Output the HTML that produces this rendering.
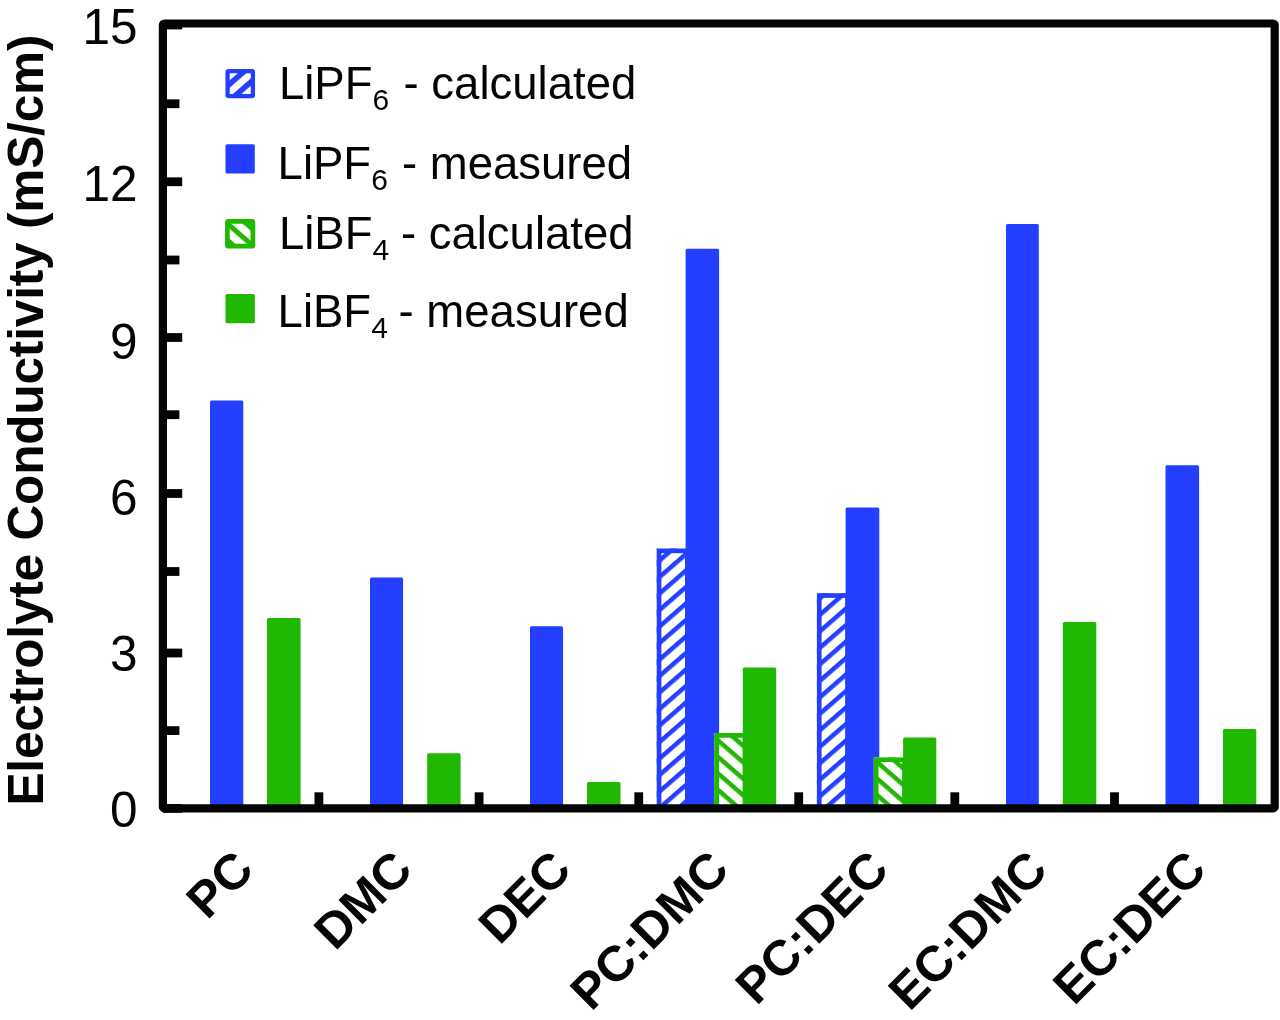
<!DOCTYPE html>
<html><head><meta charset="utf-8"><title>Electrolyte Conductivity</title>
<style>
html,body{margin:0;padding:0;background:#fff;}
svg{display:block;filter:blur(0.45px);}
text{font-family:"Liberation Sans",sans-serif;fill:#030505;}
</style></head>
<body>
<svg width="1280" height="1020" viewBox="0 0 1280 1020">
<defs>
<pattern id="hb0" patternUnits="userSpaceOnUse" width="60" height="12.45" patternTransform="translate(233.1 77.3) rotate(-41)"><rect width="60" height="5.6" fill="#243FFF"/></pattern>
<pattern id="hg0" patternUnits="userSpaceOnUse" width="60" height="12.45" patternTransform="translate(240.5 231.7) rotate(41)"><rect width="60" height="5" fill="#20B800"/></pattern>
<pattern id="hb1" patternUnits="userSpaceOnUse" width="60" height="12.45" patternTransform="translate(662.15 720.25) rotate(-41)"><rect width="60" height="4.5" fill="#243FFF"/></pattern>
<pattern id="hb2" patternUnits="userSpaceOnUse" width="60" height="12.45" patternTransform="translate(820.55 759.7) rotate(-41)"><rect width="60" height="4.5" fill="#243FFF"/></pattern>
<pattern id="hg1" patternUnits="userSpaceOnUse" width="60" height="12.45" patternTransform="translate(721.65 740.6) rotate(41)"><rect width="60" height="4.5" fill="#20B800"/></pattern>
<pattern id="hg2" patternUnits="userSpaceOnUse" width="60" height="12.45" patternTransform="translate(881.35 762.85) rotate(41)"><rect width="60" height="4.5" fill="#20B800"/></pattern>
</defs>
<rect width="1280" height="1020" fill="#fff"/>
<g id="bars">
<path d="M210 806V402.0Q210 400.5 211.5 400.5H241.8Q243.3 400.5 243.3 402.0V806Z" fill="#243FFF"/>
<path d="M267 806V619.5Q267 618 268.5 618H299.1Q300.6 618 300.6 619.5V806Z" fill="#20B800"/>
<path d="M370 806V579.0Q370 577.5 371.5 577.5H401.6Q403.1 577.5 403.1 579.0V806Z" fill="#243FFF"/>
<path d="M427.2 806V754.8Q427.2 753.3 428.7 753.3H459.1Q460.6 753.3 460.6 754.8V806Z" fill="#20B800"/>
<path d="M530 806V627.8Q530 626.3 531.5 626.3H561.6Q563.1 626.3 563.1 627.8V806Z" fill="#243FFF"/>
<path d="M587 806V783.5Q587 782 588.5 782H619.0Q620.5 782 620.5 783.5V806Z" fill="#20B800"/>
<rect x="656.7" y="548.5" width="33" height="257.5" fill="#fff"/><rect x="656.7" y="548.5" width="33" height="257.5" fill="url(#hb1)"/><rect x="659.0500000000001" y="550.85" width="28.3" height="257.5" fill="none" stroke="#243FFF" stroke-width="4.7"/>
<path d="M685.6 806V250.3Q685.6 248.8 687.1 248.8H717.6Q719.1 248.8 719.1 250.3V806Z" fill="#243FFF"/>
<rect x="714.4" y="733" width="33" height="73" fill="#fff"/><rect x="714.4" y="733" width="33" height="73" fill="url(#hg1)"/><rect x="716.75" y="735.35" width="28.3" height="73" fill="none" stroke="#20B800" stroke-width="4.7"/>
<path d="M742.8 806V669.0Q742.8 667.5 744.3 667.5H774.7Q776.2 667.5 776.2 669.0V806Z" fill="#20B800"/>
<rect x="816.9" y="593.2" width="33" height="212.79999999999995" fill="#fff"/><rect x="816.9" y="593.2" width="33" height="212.79999999999995" fill="url(#hb2)"/><rect x="819.25" y="595.5500000000001" width="28.3" height="212.79999999999995" fill="none" stroke="#243FFF" stroke-width="4.7"/>
<path d="M845.6 806V508.9Q845.6 507.4 847.1 507.4H877.8Q879.3 507.4 879.3 508.9V806Z" fill="#243FFF"/>
<rect x="873.8" y="757.4" width="33" height="48.60000000000002" fill="#fff"/><rect x="873.8" y="757.4" width="33" height="48.60000000000002" fill="url(#hg2)"/><rect x="876.15" y="759.75" width="28.3" height="48.60000000000002" fill="none" stroke="#20B800" stroke-width="4.7"/>
<path d="M903.1 806V738.9Q903.1 737.4 904.6 737.4H934.8Q936.3 737.4 936.3 738.9V806Z" fill="#20B800"/>
<path d="M1006 806V225.6Q1006 224.1 1007.5 224.1H1037.3Q1038.8 224.1 1038.8 225.6V806Z" fill="#243FFF"/>
<path d="M1062.8 806V623.5Q1062.8 622 1064.3 622H1094.8Q1096.3 622 1096.3 623.5V806Z" fill="#20B800"/>
<path d="M1165.5 806V466.8Q1165.5 465.3 1167.0 465.3H1197.6Q1199.1 465.3 1199.1 466.8V806Z" fill="#243FFF"/>
<path d="M1223 806V730.5Q1223 729 1224.5 729H1254.8Q1256.3 729 1256.3 730.5V806Z" fill="#20B800"/>
</g>
<g id="ticks">
<rect x="163" y="20.6" width="19.2" height="8.8" fill="#030505"/>
<rect x="163" y="177.35" width="19.2" height="8.8" fill="#030505"/>
<rect x="163" y="333.1" width="19.2" height="8.8" fill="#030505"/>
<rect x="163" y="489.1" width="19.2" height="8.8" fill="#030505"/>
<rect x="163" y="648.6" width="19.2" height="8.8" fill="#030505"/>
<rect x="163" y="804.0" width="19.2" height="8.8" fill="#030505"/>
<rect x="163" y="99.35" width="16.4" height="8.8" fill="#030505"/>
<rect x="163" y="255.6" width="16.4" height="8.8" fill="#030505"/>
<rect x="163" y="410.3" width="16.4" height="8.8" fill="#030505"/>
<rect x="163" y="567.1" width="16.4" height="8.8" fill="#030505"/>
<rect x="163" y="726.2" width="16.4" height="8.8" fill="#030505"/>
<rect x="314.5" y="792.3" width="8.8" height="14" fill="#030505"/>
<rect x="474.70000000000005" y="792.3" width="8.8" height="14" fill="#030505"/>
<rect x="634.35" y="792.3" width="8.8" height="14" fill="#030505"/>
<rect x="794.3000000000001" y="792.3" width="8.8" height="14" fill="#030505"/>
<rect x="950.4" y="792.3" width="8.8" height="14" fill="#030505"/>
<rect x="1110.1" y="792.3" width="8.8" height="14" fill="#030505"/>
</g>
<rect x="162.9" y="23.5" width="1111.8" height="784.9" rx="1.5" fill="none" stroke="#030505" stroke-width="8.2" stroke-linejoin="round"/>
<g id="ylabels">
<text x="137.5" y="44.2" text-anchor="end" font-size="49.5">15</text>
<text x="137.5" y="201.35" text-anchor="end" font-size="49.5">12</text>
<text x="137.5" y="358.5" text-anchor="end" font-size="49.5">9</text>
<text x="137.5" y="514.6" text-anchor="end" font-size="49.5">6</text>
<text x="137.5" y="671.0" text-anchor="end" font-size="49.5">3</text>
<text x="137.5" y="826.6" text-anchor="end" font-size="49.5">0</text>
</g>
<text id="ytitle" transform="translate(42.8 805.5) rotate(-90)" font-size="49.6" font-weight="bold" textLength="771" lengthAdjust="spacing">Electrolyte Conductivity (mS/cm)</text>
<g id="legend">

<rect x="225.5" y="144.3" width="29.3" height="29.2" rx="1.5" fill="#243FFF"/>
<rect x="225.5" y="294" width="29.3" height="29.3" rx="1.5" fill="#20B800"/>
<rect x="227.6" y="71.1" width="25.3" height="25" fill="#fff"/>
<rect x="227.6" y="71.1" width="25.3" height="25" fill="url(#hb0)"/>
<rect x="227.6" y="71.1" width="25.3" height="25" rx="1" fill="none" stroke="#243FFF" stroke-width="4.3"/>
<rect x="227.4" y="221.3" width="25.5" height="24.9" fill="#fff"/>
<rect x="227.4" y="221.3" width="25.5" height="24.9" fill="url(#hg0)"/>
<rect x="227.4" y="221.3" width="25.5" height="24.9" rx="1" fill="none" stroke="#20B800" stroke-width="4.7"/>

<text x="278.9" y="99" font-size="45.5">LiPF<tspan dy="11" font-size="30">6</tspan><tspan dy="-11" dx="1.8"> - calculated</tspan></text>
<text x="277.59999999999997" y="178.5" font-size="45.5">LiPF<tspan dy="11" font-size="30">6</tspan><tspan dy="-11" dx="1.5"> - measured</tspan></text>
<text x="278.9" y="248.8" font-size="45.5">LiBF<tspan dy="11" font-size="30">4</tspan><tspan dy="-11" dx="-0.9"> - calculated</tspan></text>
<text x="277.59999999999997" y="327.2" font-size="45.5">LiBF<tspan dy="11" font-size="30">4</tspan><tspan dy="-11" dx="-1.9"> - measured</tspan></text>
</g>
<g id="xlabels">
<text transform="translate(256.00 872) rotate(-45)" text-anchor="end" font-size="49.6" font-weight="bold">PC</text>
<text transform="translate(414.75 872) rotate(-45)" text-anchor="end" font-size="49.6" font-weight="bold">DMC</text>
<text transform="translate(573.50 872) rotate(-45)" text-anchor="end" font-size="49.6" font-weight="bold">DEC</text>
<text transform="translate(731.45 872) rotate(-45)" text-anchor="end" font-size="49.6" font-weight="bold">PC:DMC</text>
<text transform="translate(891.00 872) rotate(-45)" text-anchor="end" font-size="49.6" font-weight="bold">PC:DEC</text>
<text transform="translate(1049.75 872) rotate(-45)" text-anchor="end" font-size="49.6" font-weight="bold">EC:DMC</text>
<text transform="translate(1208.50 872) rotate(-45)" text-anchor="end" font-size="49.6" font-weight="bold">EC:DEC</text>
</g>
</svg>
</body></html>
